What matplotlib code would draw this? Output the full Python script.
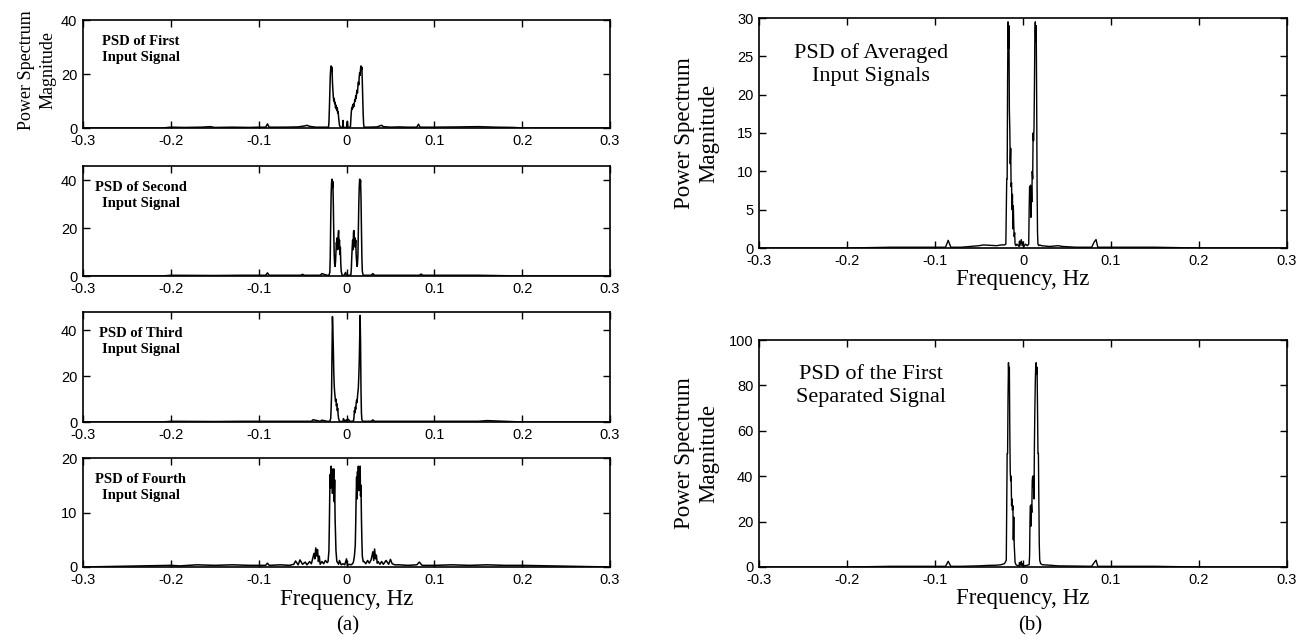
#!/usr/bin/env python
"""Power spectral density of the four input signals, their average and the
first separated signal (frequency in Hz, normalised)."""

import matplotlib.pyplot as plt

SERIF = "Liberation Serif"
SANS = "Liberation Sans"

# ---- PSD of first input signal ----
first_freq = [-0.300, -0.210, -0.200, -0.185, -0.165, -0.155, -0.150, -0.130, -0.110, -0.100,
              -0.092, -0.090, -0.088, -0.070, -0.055, -0.047, -0.045, -0.042, -0.035, -0.025,
              -0.0205, -0.0200, -0.0195, -0.0190, -0.0185, -0.0180, -0.0175, -0.0170, -0.0165,
              -0.0160, -0.0155, -0.0150, -0.0145, -0.0140, -0.0135, -0.0130, -0.0125, -0.0120,
              -0.0115, -0.0110, -0.0105, -0.0100, -0.0095, -0.0090, -0.0085, -0.0080, -0.0070,
              -0.0045, -0.0040, -0.0035, -0.0025, 0.0000, 0.0010, 0.0015, 0.0030,
              0.0045, 0.0050, 0.0055, 0.0060, 0.0065, 0.0070, 0.0075, 0.0080, 0.0085, 0.0090,
              0.0095, 0.0100, 0.0105, 0.0110, 0.0115, 0.0120, 0.0125, 0.0130, 0.0135, 0.0140,
              0.0145, 0.0150, 0.0155, 0.0160, 0.0165, 0.0170, 0.0175, 0.0180, 0.0185, 0.0190,
              0.0195, 0.0200, 0.0250, 0.0350, 0.0380, 0.0400, 0.0420, 0.0500, 0.0600, 0.0700,
              0.0800, 0.0820, 0.0835, 0.0850, 0.1000, 0.1300, 0.1500, 0.1700, 0.1900, 0.2000,
              0.3000]
first_mag = [0.0, 0.0, 0.3, 0.2, 0.3, 0.5, 0.2, 0.3, 0.2, 0.3,
             0.3, 1.5, 0.3, 0.3, 0.4, 0.8, 1.0, 0.6, 0.3, 0.3,
             0.3, 2.0, 7.0, 13.0, 19.0, 22.0, 23.0, 21.0, 22.5,
             17.0, 14.0, 11.5, 10.0, 11.0, 9.0, 9.5, 7.5, 8.5,
             7.0, 6.5, 7.5, 5.5, 6.0, 4.0, 2.5, 1.0, 0.3,
             0.2, 2.8, 0.2, 0.2, 0.2, 2.5, 0.2, 0.2,
             0.5, 3.5, 6.0, 7.5, 7.0, 8.5, 7.5, 9.0, 8.0, 9.5,
             10.5, 10.0, 12.0, 11.0, 13.0, 14.0, 13.0, 15.5, 17.0, 16.0,
             19.0, 20.5, 19.5, 22.0, 23.0, 21.5, 22.5, 17.0, 11.0, 5.0,
             1.5, 0.3, 0.3, 0.4, 0.8, 1.0, 0.5, 0.3, 0.4, 0.3,
             0.3, 1.4, 0.4, 0.3, 0.3, 0.4, 0.5, 0.3, 0.2, 0.0,
             0.0]

# ---- PSD of second input signal ----
second_freq = [-0.300, -0.210, -0.200, -0.150, -0.120, -0.100, -0.092, -0.090, -0.088, -0.070,
               -0.052, -0.050, -0.048, -0.035, -0.030, -0.028, -0.022,
               -0.0200, -0.0190, -0.0185, -0.0180, -0.0175, -0.0170, -0.0165, -0.0160, -0.0155,
               -0.0150, -0.0145, -0.0140, -0.0135, -0.0130, -0.0125, -0.0120, -0.0115, -0.0110,
               -0.0105, -0.0100, -0.0095, -0.0090, -0.0085, -0.0080, -0.0075, -0.0070, -0.0065,
               -0.0060, -0.0050, -0.0030, -0.0010, 0.0000, 0.0030,
               0.0050, 0.0055, 0.0060, 0.0065, 0.0070, 0.0075, 0.0080, 0.0085, 0.0090, 0.0095,
               0.0100, 0.0105, 0.0110, 0.0115, 0.0120, 0.0125, 0.0130, 0.0135, 0.0140, 0.0145,
               0.0150, 0.0155, 0.0160, 0.0165, 0.0170, 0.0175, 0.0180, 0.0190,
               0.0220, 0.0280, 0.0300, 0.0320, 0.0500, 0.0830, 0.0850, 0.0870, 0.1000, 0.1500,
               0.2000, 0.3000]
second_mag = [0.0, 0.0, 0.3, 0.2, 0.3, 0.3, 0.3, 1.3, 0.3, 0.3,
              0.3, 0.7, 0.3, 0.3, 0.3, 1.0, 0.3,
              0.3, 1.5, 8.0, 22.0, 34.0, 39.0, 40.5, 37.0, 39.5,
              30.0, 18.0, 9.0, 5.0, 4.0, 6.0, 10.0, 14.0, 12.0,
              16.0, 11.0, 17.0, 19.0, 13.0, 15.0, 9.0, 12.0, 5.0,
              2.0, 0.3, 0.2, 1.5, 0.2, 0.3,
              0.5, 3.0, 8.0, 12.0, 15.0, 11.0, 18.5, 19.0, 14.0, 16.0,
              12.0, 15.0, 9.0, 6.0, 4.0, 5.0, 9.0, 19.0, 30.0, 37.0,
              40.5, 38.0, 40.0, 33.0, 20.0, 8.0, 2.0, 0.3,
              0.3, 0.3, 1.0, 0.3, 0.3, 0.3, 0.8, 0.3, 0.3, 0.3,
              0.0, 0.0]

# ---- PSD of third input signal ----
third_freq = [-0.300, -0.210, -0.200, -0.150, -0.120, -0.100, -0.090, -0.080, -0.050, -0.040,
              -0.038, -0.030, -0.028, -0.022,
              -0.0190, -0.0180, -0.0175, -0.0170, -0.0165, -0.0160, -0.0155, -0.0150, -0.0145,
              -0.0140, -0.0135, -0.0130, -0.0125, -0.0120, -0.0115, -0.0110, -0.0105, -0.0100,
              -0.0095, -0.0090, -0.0080, -0.0060, -0.0040, -0.0035, -0.0020, 0.0000, 0.0005,
              0.0020, 0.0040, 0.0060,
              0.0080, 0.0085, 0.0090, 0.0095, 0.0100, 0.0105, 0.0110, 0.0115, 0.0120, 0.0125,
              0.0130, 0.0135, 0.0140, 0.0145, 0.0150, 0.0155, 0.0160, 0.0165, 0.0170, 0.0175,
              0.0185, 0.0220, 0.0280, 0.0300, 0.0320, 0.0500, 0.0800, 0.1000, 0.1500, 0.1600,
              0.2000, 0.3000]
third_mag = [0.0, 0.0, 0.3, 0.2, 0.3, 0.3, 0.3, 0.3, 0.3, 0.3,
             1.0, 0.3, 0.8, 0.3,
             0.3, 1.5, 6.0, 12.0, 30.0, 46.0, 40.0, 32.0, 22.0,
             16.0, 13.0, 11.0, 9.0, 10.0, 7.0, 8.0, 5.0, 6.0,
             3.0, 1.5, 0.3, 0.2, 0.3, 1.5, 0.3, 1.0, 0.2,
             1.2, 0.3, 0.3,
             0.5, 2.0, 5.0, 4.0, 6.5, 5.5, 8.0, 9.5, 8.5, 11.0,
             13.0, 15.0, 20.0, 26.0, 36.0, 46.5, 35.0, 14.0, 4.0, 1.0,
             0.3, 0.3, 0.3, 0.9, 0.3, 0.3, 0.3, 0.3, 0.3, 0.6,
             0.0, 0.0]

# ---- PSD of fourth input signal ----
fourth_freq = [-0.300, -0.200, -0.190, -0.170, -0.150, -0.130, -0.110, -0.100, -0.092, -0.090,
               -0.088, -0.075, -0.065, -0.060, -0.058, -0.055, -0.053, -0.050, -0.047, -0.045,
               -0.042, -0.040, -0.037, -0.036, -0.035, -0.034, -0.033, -0.032, -0.031, -0.030,
               -0.028, -0.026, -0.024, -0.022,
               -0.0210, -0.0200, -0.0195, -0.0190, -0.0185, -0.0180, -0.0175, -0.0170, -0.0165,
               -0.0160, -0.0155, -0.0150, -0.0145, -0.0140, -0.0135, -0.0130, -0.0125, -0.0120,
               -0.0115, -0.0110, -0.0100, -0.0090, -0.0080, -0.0060, -0.0040, -0.0020, 0.0000,
               0.0010, 0.0030, 0.0050, 0.0070,
               0.0080, 0.0090, 0.0100, 0.0105, 0.0110, 0.0115, 0.0120, 0.0125, 0.0130, 0.0135,
               0.0140, 0.0145, 0.0150, 0.0155, 0.0160, 0.0165, 0.0170, 0.0175, 0.0180, 0.0190,
               0.0200, 0.0220, 0.0240, 0.0260, 0.0280, 0.0300, 0.0310, 0.0320, 0.0330, 0.0340,
               0.0350, 0.0360, 0.0380, 0.0400, 0.0420, 0.0450, 0.0480, 0.0500, 0.0520, 0.0550,
               0.0600, 0.0700, 0.0800, 0.0830, 0.0860, 0.1000, 0.1200, 0.1400, 0.1600, 0.1800,
               0.2000, 0.3000]
fourth_mag = [0.0, 0.3, 0.2, 0.4, 0.3, 0.4, 0.3, 0.3, 0.3, 0.7,
              0.3, 0.4, 0.3, 0.5, 1.1, 0.4, 1.3, 0.5, 0.9, 0.4,
              1.0, 0.6, 2.5, 1.5, 3.5, 2.0, 3.2, 1.0, 2.0, 0.5,
              1.0, 0.6, 1.2, 0.8,
              1.0, 3.0, 8.0, 14.0, 17.0, 14.5, 18.5, 15.0, 18.0,
              13.5, 17.5, 15.0, 18.0, 12.0, 16.0, 9.0, 6.0, 3.0,
              2.0, 1.0, 0.8, 0.5, 1.2, 0.4, 0.6, 0.4, 1.5,
              0.3, 0.5, 0.4, 0.6,
              1.0, 2.0, 4.0, 8.0, 13.0, 16.5, 12.5, 17.5, 15.0, 18.5,
              14.0, 18.0, 16.0, 18.5, 13.0, 15.0, 9.0, 5.0, 2.0, 1.0,
              1.0, 0.6, 1.2, 0.7, 1.3, 2.8, 1.2, 3.3, 1.5, 2.2,
              0.7, 1.0, 0.5, 1.0, 0.5, 1.2, 0.5, 1.4, 0.6, 0.4,
              0.4, 0.3, 0.4, 0.9, 0.3, 0.3, 0.4, 0.3, 0.4, 0.3,
              0.3, 0.0]

# ---- PSD of averaged input signals ----
avg_freq = [-0.300, -0.200, -0.150, -0.100, -0.088, -0.085, -0.082, -0.070, -0.050, -0.045,
            -0.030, -0.025, -0.0210, -0.0195, -0.0185, -0.0180, -0.0175, -0.0170, -0.0165,
            -0.0160, -0.0155, -0.0150, -0.0145, -0.0140, -0.0135, -0.0130, -0.0125, -0.0120,
            -0.0115, -0.0110, -0.0105, -0.0100, -0.0095, -0.0090, -0.0080, -0.0070, -0.0060,
            -0.0045, -0.0040, -0.0035, -0.0020, -0.0010, 0.0000, 0.0010, 0.0030, 0.0050,
            0.0065, 0.0070, 0.0075, 0.0080, 0.0085, 0.0090, 0.0095, 0.0100, 0.0105, 0.0110,
            0.0115, 0.0120, 0.0125, 0.0130, 0.0135, 0.0140, 0.0145, 0.0150, 0.0155, 0.0160,
            0.0165, 0.0170, 0.0180, 0.0190, 0.0210, 0.0300, 0.0400, 0.0450, 0.0600, 0.0780,
            0.0810, 0.0830, 0.0850, 0.1000, 0.1500, 0.2000, 0.3000]
avg_mag = [0.0, 0.0, 0.1, 0.1, 0.1, 1.0, 0.1, 0.1, 0.3, 0.4,
           0.3, 0.4, 0.4, 0.5, 9.0, 9.0, 22.0, 29.5, 26.0,
           29.0, 18.0, 15.5, 11.0, 13.0, 8.0, 8.5, 5.0, 7.0,
           2.5, 5.5, 3.0, 1.5, 2.0, 0.5, 0.3, 0.5, 0.4,
           0.2, 0.9, 0.3, 1.1, 0.3, 0.8, 0.2, 0.5, 0.3,
           0.5, 5.0, 8.0, 7.5, 8.2, 4.0, 8.0, 6.0, 10.0, 9.0,
           15.0, 14.0, 15.5, 21.0, 28.0, 29.5, 27.0, 29.0, 20.0, 8.0,
           2.0, 0.5, 0.3, 0.4, 0.3, 0.2, 0.3, 0.2, 0.1, 0.1,
           0.8, 1.1, 0.1, 0.1, 0.1, 0.0, 0.0]

# ---- PSD of the first separated signal ----
sep_freq = [-0.300, -0.200, -0.150, -0.100, -0.088, -0.085, -0.082, -0.070, -0.050, -0.040,
            -0.030, -0.025, -0.0210, -0.0190, -0.0180, -0.0175, -0.0170, -0.0165, -0.0160,
            -0.0155, -0.0150, -0.0145, -0.0140, -0.0135, -0.0130, -0.0125, -0.0120, -0.0115,
            -0.0110, -0.0105, -0.0100, -0.0095, -0.0090, -0.0080, -0.0070, -0.0060, -0.0045,
            -0.0040, -0.0035, -0.0020, -0.0010, 0.0000, 0.0010, 0.0030, 0.0050, 0.0070,
            0.0075, 0.0080, 0.0085, 0.0090, 0.0095, 0.0100, 0.0105, 0.0110, 0.0115, 0.0120,
            0.0125, 0.0130, 0.0135, 0.0140, 0.0145, 0.0150, 0.0155, 0.0160, 0.0165, 0.0170,
            0.0175, 0.0180, 0.0185, 0.0190, 0.0200, 0.0220, 0.0300, 0.0400, 0.0600, 0.0780,
            0.0810, 0.0830, 0.0850, 0.1000, 0.1500, 0.2000, 0.3000]
sep_mag = [0.0, 0.0, 0.3, 0.3, 0.3, 2.5, 0.3, 0.3, 0.5, 0.7,
           0.8, 1.0, 1.5, 3.0, 50.0, 50.0, 75.0, 90.0, 82.0,
           88.0, 60.0, 42.0, 38.0, 40.0, 27.0, 30.0, 25.0, 27.0,
           12.0, 22.0, 10.0, 6.0, 2.0, 1.0, 0.8, 0.6, 0.5,
           2.0, 0.5, 2.5, 0.5, 1.5, 0.5, 0.6, 0.8, 1.0,
           5.0, 22.0, 27.0, 18.0, 27.5, 24.0, 38.0, 40.0, 35.0, 40.0,
           30.0, 55.0, 70.0, 82.0, 89.0, 90.0, 85.0, 88.0, 70.0, 50.0,
           50.0, 30.0, 10.0, 3.0, 1.5, 1.0, 0.8, 0.5, 0.4, 0.3,
           2.0, 3.0, 0.3, 0.3, 0.3, 0.0, 0.0]

xticks = [-0.3, -0.2, -0.1, 0.0, 0.1, 0.2, 0.3]
xtick_labels = ["-0.3", "-0.2", "-0.1", "0", "0.1", "0.2", "0.3"]

left_series = [
    (first_freq, first_mag, "PSD of First\nInput Signal", 40, [0, 20, 40]),
    (second_freq, second_mag, "PSD of Second\nInput Signal", 46, [0, 20, 40]),
    (third_freq, third_mag, "PSD of Third\nInput Signal", 48, [0, 20, 40]),
    (fourth_freq, fourth_mag, "PSD of Fourth\nInput Signal", 20, [0, 10, 20]),
]
right_series = [
    (avg_freq, avg_mag, "PSD of Averaged\nInput Signals", 30, [0, 5, 10, 15, 20, 25, 30]),
    (sep_freq, sep_mag, "PSD of the First\nSeparated Signal", 100, [0, 20, 40, 60, 80, 100]),
]


def style_axes(ax, ymax, yticks):
    ax.set_xlim(-0.3, 0.3)
    ax.set_ylim(0, ymax)
    ax.set_xticks(xticks)
    ax.set_xticklabels(xtick_labels, fontfamily=SANS)
    ax.set_yticks(yticks)
    ax.set_yticklabels([str(v) for v in yticks], fontfamily=SANS)
    ax.tick_params(direction="in", top=True, right=True, length=5, width=1,
                   labelsize=10.5)
    ax.tick_params(axis="x", pad=4)
    ax.tick_params(axis="y", pad=4)
    for sp in ax.spines.values():
        sp.set_linewidth(1.2)


fig = plt.figure(figsize=(13.01, 6.41), dpi=100)

# left column: four input signals
left_rows = [(20, 128), (166, 276), (312, 422), (458, 567)]
for (freq, mag, label, ymax, yticks), (top, bot) in zip(left_series, left_rows):
    ax = fig.add_axes([83 / 1301, 1 - bot / 641, (610 - 83) / 1301, (bot - top) / 641])
    ax.plot(freq, mag, color="black", linewidth=1.1)
    style_axes(ax, ymax, yticks)
    ax.text(0.11, 0.86, label, transform=ax.transAxes, ha="center", va="top",
            multialignment="center", fontfamily=SERIF, fontweight="bold", fontsize=10.5,
            linespacing=1.25)
    last_left = ax

last_left.set_xlabel("Frequency, Hz", fontfamily=SERIF, fontsize=16.5, labelpad=2)
fig.text(37 / 1301, 1 - 70 / 641, "Power Spectrum\nMagnitude", rotation=90,
         ha="center", va="center", multialignment="center", fontfamily=SERIF,
         fontsize=13, linespacing=1.35)
fig.text(348 / 1301, 1 - 626 / 641, "(a)", ha="center", va="center",
         fontfamily=SERIF, fontsize=15)

# right column: averaged input and first separated signal
right_rows = [(18, 248), (340, 567)]
for (freq, mag, label, ymax, yticks), (top, bot) in zip(right_series, right_rows):
    ax = fig.add_axes([759 / 1301, 1 - bot / 641, (1287 - 759) / 1301, (bot - top) / 641])
    ax.plot(freq, mag, color="black", linewidth=1.0)
    style_axes(ax, ymax, yticks)
    ax.text(0.212, 0.89, label, transform=ax.transAxes, ha="center", va="top",
            multialignment="center", fontfamily=SERIF, fontsize=16, linespacing=1.3)
    ax.set_xlabel("Frequency, Hz", fontfamily=SERIF, fontsize=16.5, labelpad=1)
    fig.text(697 / 1301, 1 - (top + bot) / 2 / 641, "Power Spectrum\nMagnitude", rotation=90,
             ha="center", va="center", multialignment="center", fontfamily=SERIF,
             fontsize=16.5)

fig.text(1030 / 1301, 1 - 626 / 641, "(b)", ha="center", va="center",
         fontfamily=SERIF, fontsize=15)

fig.savefig("out.png", dpi=100)
